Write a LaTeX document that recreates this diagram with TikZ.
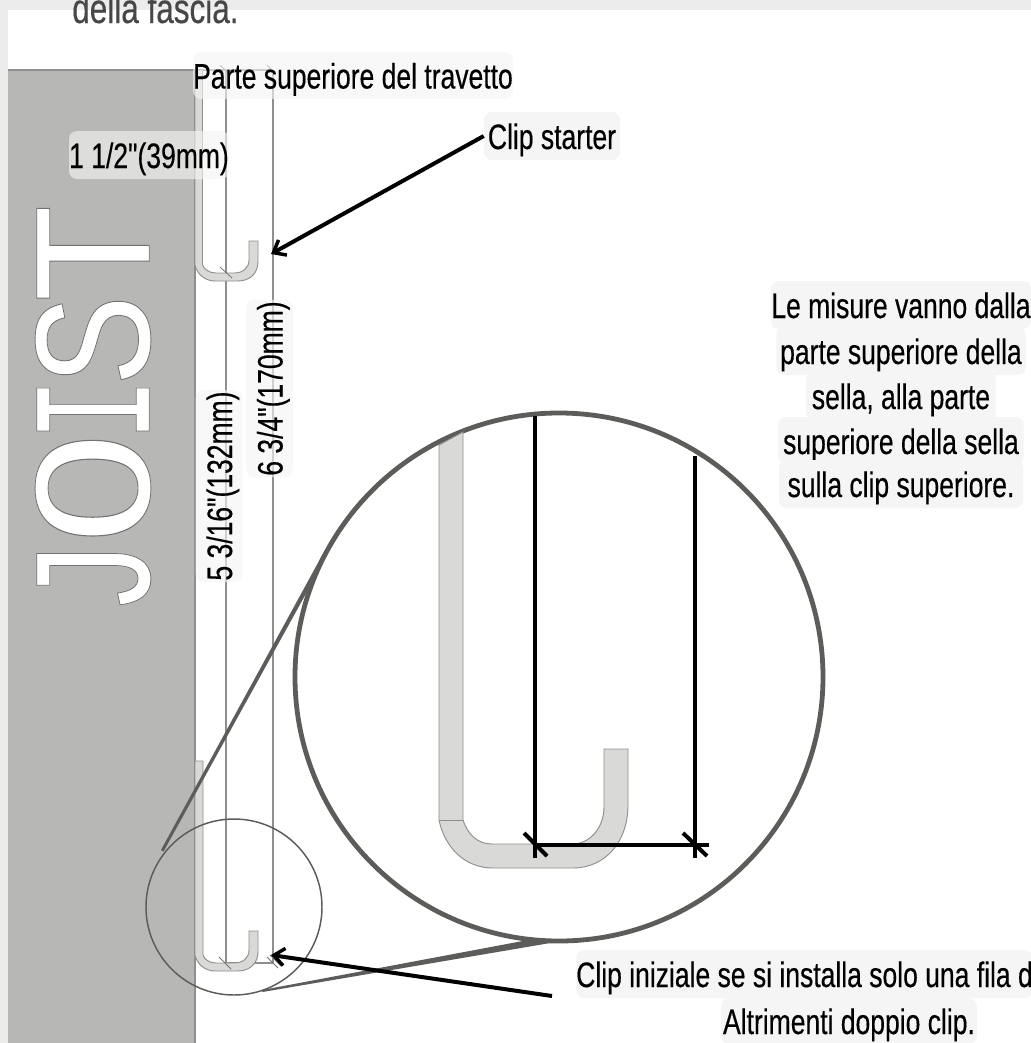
\documentclass[tikz,border=0pt]{standalone}
\usepackage{fontspec}
\usepackage{graphicx}
\usetikzlibrary{arrows.meta}
\newfontfamily\oswfont[FakeStretch=0.75,FakeBold=0.35]{Liberation Sans}
\newfontfamily\slabfont[FakeStretch=0.8]{Liberation Mono}
\newcommand{\joistletter}[2]{\scalebox{#1}[1]{\special{pdf:code 2 Tr 0.6 w 0.45 G}#2\special{pdf:code 0 Tr}}}
\definecolor{pagegrey}{HTML}{ECECEC}
\definecolor{joistgrey}{HTML}{B7B7B5}
\definecolor{edgegrey}{HTML}{8F8F8D}
\definecolor{clipfill}{HTML}{D9D9D7}
\definecolor{lensgrey}{HTML}{5C5C5A}
\definecolor{labelbg}{HTML}{F5F5F5}
\tikzset{
  lbl/.style={font=\oswfont\fontsize{26.5}{28}\selectfont,text=black,fill=labelbg,rounded corners=6pt,inner sep=0pt,anchor=center,text height=20.5pt,text depth=1pt},
  lblsoft/.style={lbl,fill opacity=0.62,text opacity=1},
  thinline/.style={draw=edgegrey,line width=0.9pt},
  tick/.style={draw=black!55,line width=0.6pt},
  cliplook/.style={fill=clipfill,draw=edgegrey,line width=0.7pt},
  dimline/.style={draw=black,line width=3pt},
  callout/.style={draw=black,line width=3pt,-{Straight Barb[length=8pt,width=13pt,line width=2.6pt]}},
}
\begin{document}
\begin{tikzpicture}[x=0.75pt,y=-0.75pt]
\useasboundingbox (0,0) rectangle (1031,1043);
\fill[pagegrey] (0,0) rectangle (1031,1043);
\fill[white] (8,10) rectangle (1031,1043);
\node[anchor=base west,inner sep=0pt,text=black!72,font=\oswfont\fontsize{31.5}{33}\selectfont] (head) at (72,23) {della fascia.};
\fill[joistgrey] (8,70) rectangle (195,1043);
\draw[edgegrey,line width=0.8pt] (8,70) -- (195,70) -- (195,1043);
\node[rotate=90,inner sep=0pt,text=white,font=\slabfont\fontsize{128}{130}\selectfont] (joist) at (93,409)
  {\joistletter{0.95}{J}\kern-5.5pt\joistletter{1.4}{O}\kern-8pt\joistletter{0.78}{I}\kern-6pt\joistletter{1.12}{S}\kern-8pt\joistletter{1.25}{T}};
% dimension lines
\draw[thinline] (195,70) -- (273,70);
\draw[thinline] (226,70) -- (226,963);
\draw[thinline] (273,70) -- (273,963);
\draw[thinline] (226,963) -- (273,963);
\draw[tick] (220,65) -- (228,73);
\draw[tick] (267,65) -- (275,73);
% upper clip
\draw[cliplook] (195,70) -- (202.5,70) -- (202.5,265) .. controls (204,269) and (209,273) .. (216,273) -- (234,273) .. controls (243,273) and (249,268) .. (249,260) -- (249,241) -- (258,241) -- (258,262) .. controls (258,273) and (250,281) .. (238,281) -- (215,281) .. controls (205,281) and (197,274) .. (195,265) -- cycle;
\draw[tick] (220,267) -- (232,278);
% lower clip
\draw[cliplook] (195,761) -- (203,761) -- (203,955) .. controls (204,959) and (209,963) .. (216,963) -- (234,963) .. controls (243,963) and (249,958) .. (249,950) -- (249,931) -- (258,931) -- (258,952) .. controls (258,963) and (250,971) .. (238,971) -- (215,971) .. controls (205,971) and (197,964) .. (195,955) -- cycle;
\draw[tick] (219,957) -- (231,969);
\draw[tick] (267,957) -- (278,968);
\draw[tick] (270,955) -- (281,966);
% lens
\draw[lensgrey,line width=1.1pt] (234,907) circle[radius=88];
\fill[lensgrey] (161,850) -- (163.5,851.5) -- (329,552) -- (325,550) -- cycle;
\fill[lensgrey] (262,990) -- (262.5,992) -- (562,941) -- (560,934) -- cycle;
\draw[lensgrey,line width=3.6pt,fill=white] (559,677) circle[radius=264];
% big clip
\draw[cliplook] (439,445) -- (463,432) -- (463,820) .. controls (468,835) and (478,844) .. (492,844) -- (575,844) .. controls (592,842) and (604,826) .. (604,807) -- (604,749) -- (628,749) -- (628,805) .. controls (628,842) and (605,868) .. (573,868) -- (493,868) .. controls (465,868) and (445,848) .. (439,820) -- cycle;
\draw[edgegrey,line width=0.6pt] (439,820) -- (463,820);
\coordinate (bigA) at (535,416);
\coordinate (bigB) at (695,456);
\coordinate (bigAfoot) at (535,858);
\coordinate (bigBfoot) at (695,858);
\coordinate (bigH) at (709,844.5);
\draw[dimline] (bigA) -- (bigAfoot);
\draw[dimline] (bigB) -- (bigBfoot);
\draw[dimline] (535,844.5) -- (bigH);
\draw[dimline] (524,833) -- (547,856);
\draw[dimline] (683,833) -- (707,856);
% labels
\node[lblsoft,minimum width=240pt,minimum height=35pt] (top) at (353,75.5) {Parte superiore del travetto};
\node[lblsoft,minimum width=120pt,minimum height=36pt] (dim1) at (149,155) {1 1/2"(39mm)};
\node[lbl,minimum width=102pt,minimum height=36pt] (starter) at (552,136) {Clip starter};
\node[lblsoft,rotate=90,minimum width=144pt,minimum height=35pt] (dim3) at (219,486) {5 3/16"(132mm)};
\node[lblsoft,rotate=90,minimum width=133pt,minimum height=35pt] (dim4) at (269.5,388.5) {6 3/4"(170mm)};
\node[lbl,minimum width=195pt,minimum height=36pt] (r1) at (901,305) {Le misure vanno dalla};
\node[lbl,minimum width=187pt,minimum height=36pt] (r2) at (901,351) {parte superiore della};
\node[lbl,minimum width=142pt,minimum height=36pt] (r3) at (901,396) {sella, alla parte};
\node[lbl,minimum width=184pt,minimum height=36pt] (r4) at (901,441) {superiore della sella};
\node[lbl,minimum width=183pt,minimum height=36pt] (r5) at (901,484) {sulla clip superiore.};
\node[lbl,anchor=west,minimum width=342pt,minimum height=36pt] (init1) at (576,974) {Clip iniziale se si installa solo una fila d};
\node[lbl,minimum width=192pt,minimum height=34pt] (init2) at (849,1021) {Altrimenti doppio clip.};
% callouts
\coordinate (starterTip) at (271,254);
\coordinate (initTip) at (271,955);
\coordinate (initTail) at (552,996);
\draw[callout] (starter.west) -- (starterTip);
\draw[callout] (initTail) -- (initTip);
\end{tikzpicture}
\end{document}
